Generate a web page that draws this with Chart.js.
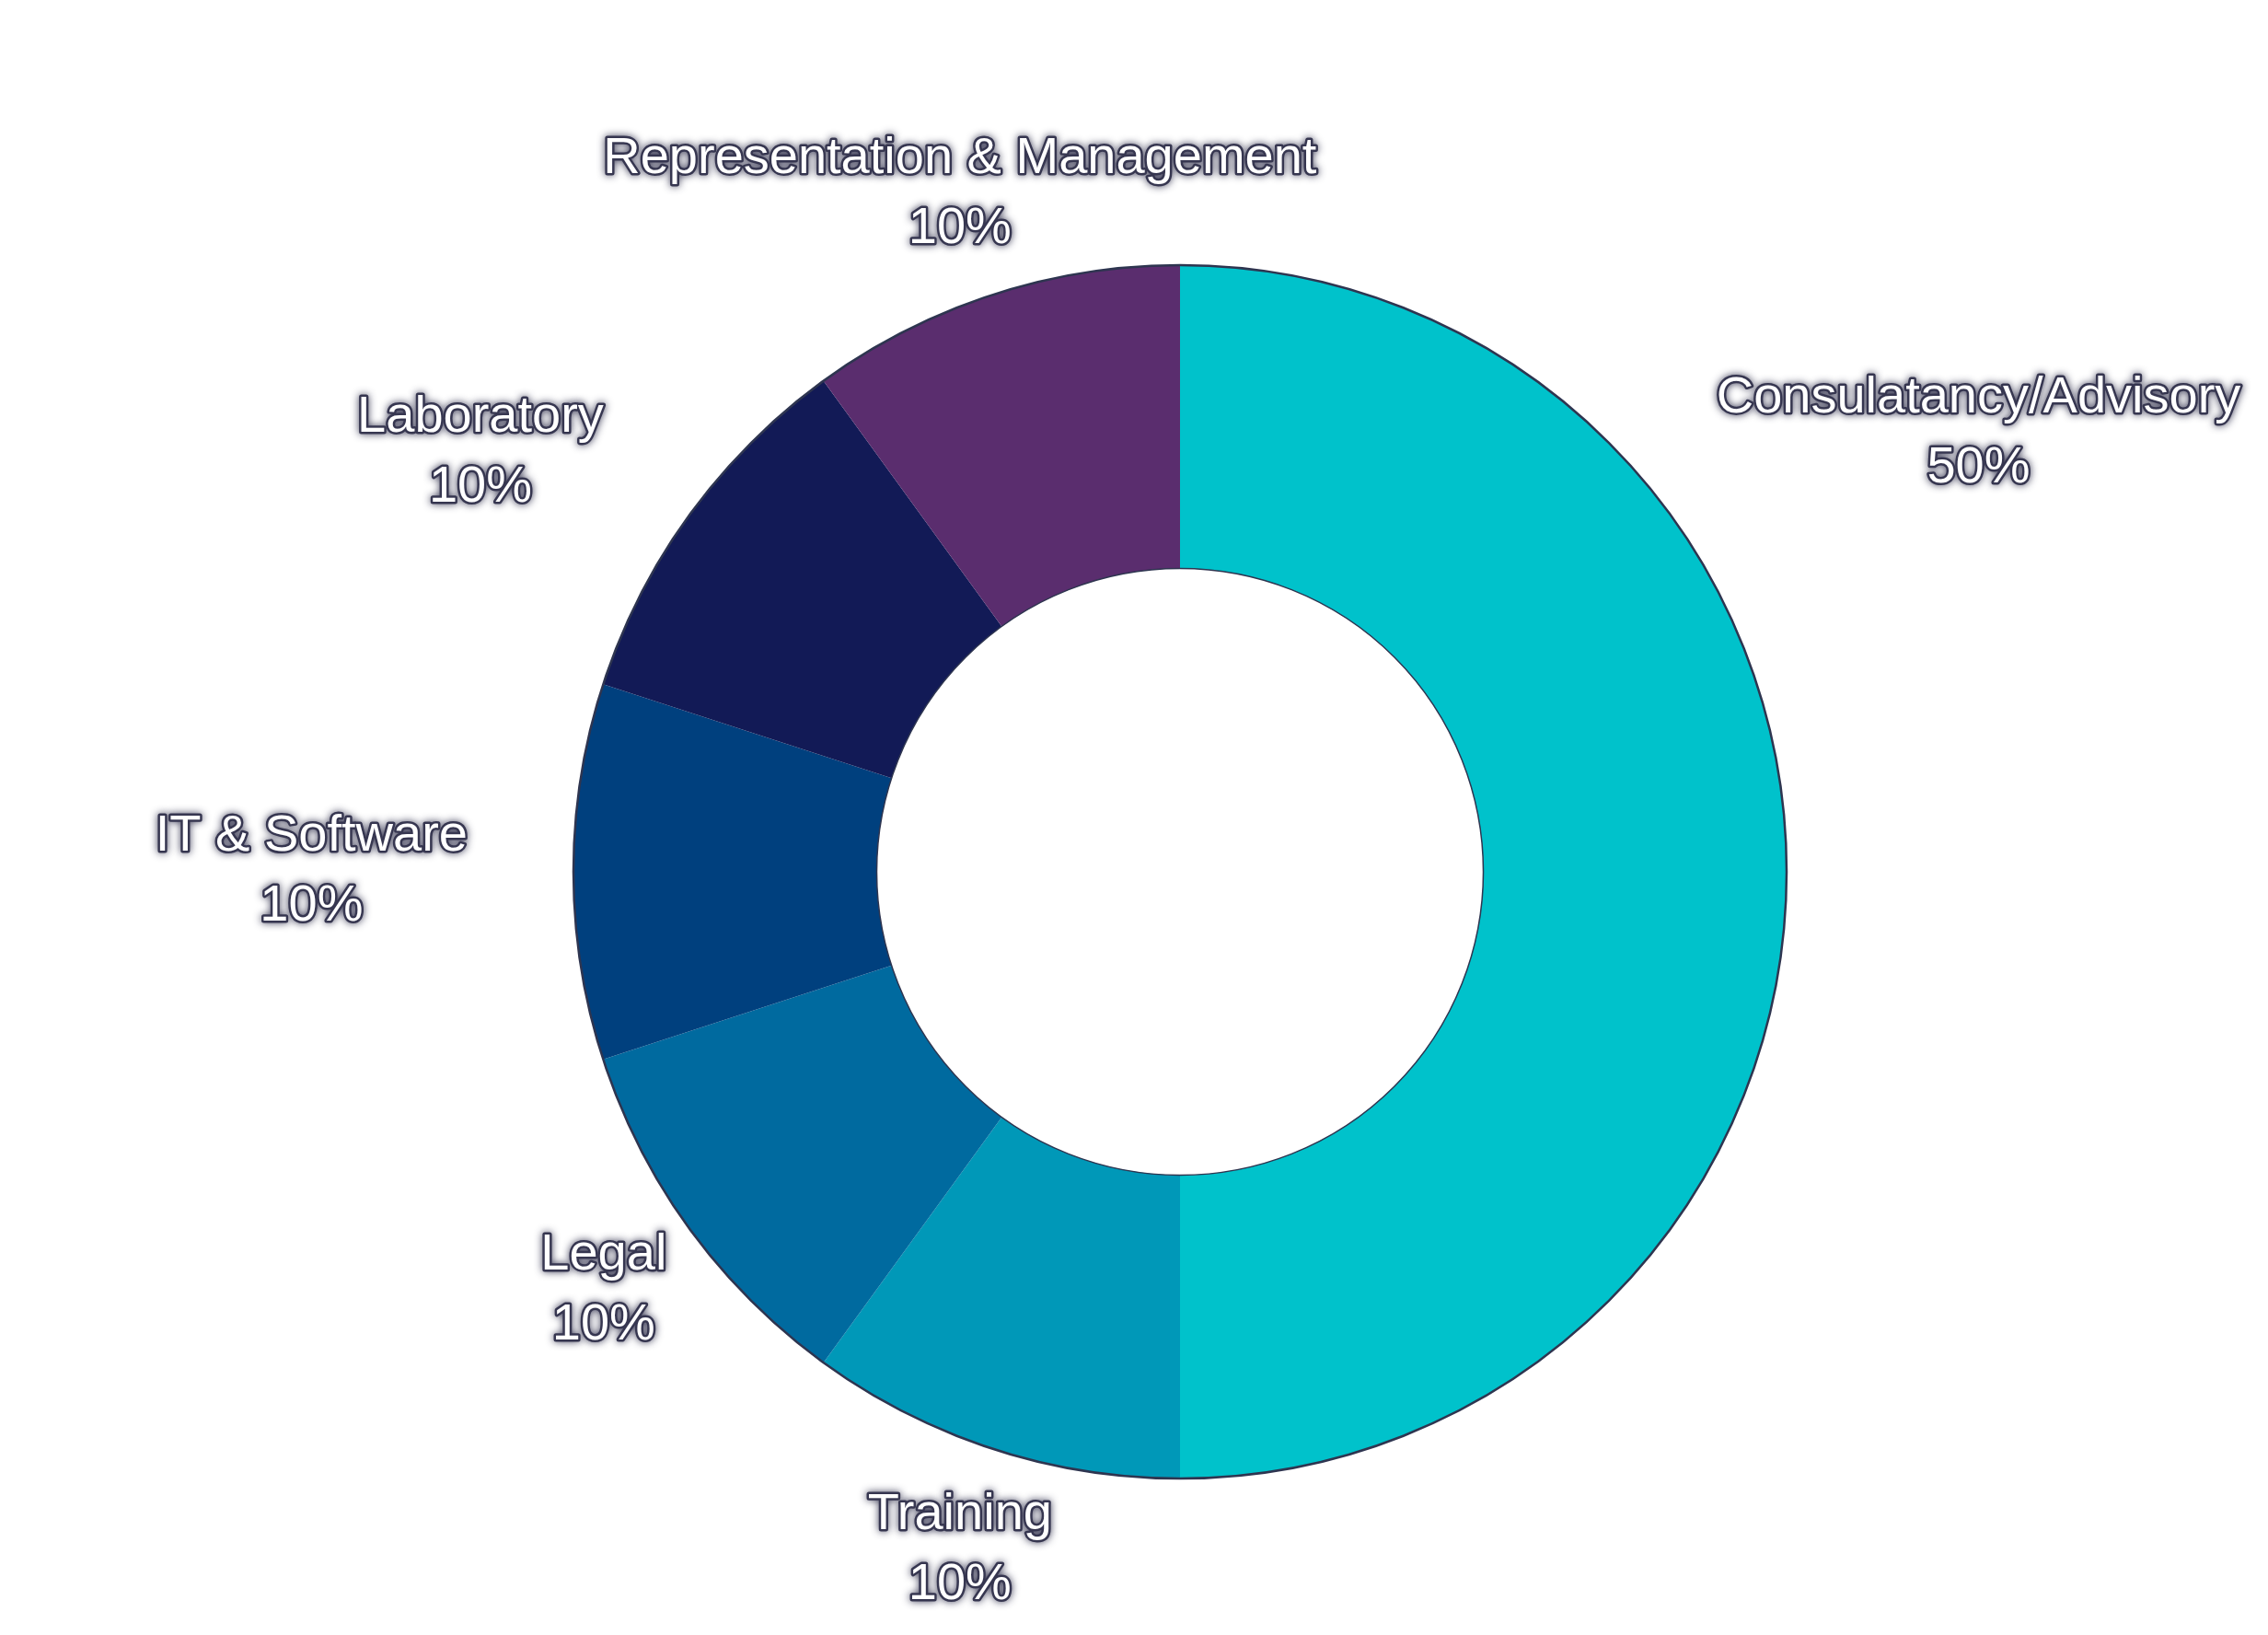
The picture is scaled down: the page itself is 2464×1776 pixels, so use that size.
<!DOCTYPE html>
<html>
<head>
<meta charset="utf-8">
<script src="https://cdn.jsdelivr.net/npm/chart.js@4"></script>
<style>
  html, body { margin: 0; padding: 0; background: #ffffff; }
  #wrap { width: 2464px; height: 1776px; position: relative; }
</style>
</head>
<body>
<div id="wrap"><canvas id="serviciosChart"></canvas></div>
<script>
const categorias = ["Consulatancy/Advisory", "Training", "Legal", "IT & Software", "Laboratory", "Representation & Management"];
const valores = [50, 10, 10, 10, 10, 10];
const colores = ["#00c2cb", "#0098b8", "#006a9f", "#00407e", "#121a56", "#5a2d6e"];

// label layout: alignment, angle override (deg from top, clockwise) and gap beyond the ring
const alineacion = ["left", "center", "center", "right", "right", "center"];
const anguloEtiqueta = [50.7, null, null, null, null, null];
const separacion = [94, 115, 115, 115, 115, 115];

function porcentaje(valor, total) {
    return `${Math.round((valor / total) * 100)}%`;
}

const etiquetasExternas = {
    id: "etiquetasExternas",
    afterDatasetsDraw(chart) {
        const dataset = chart.data.datasets[0];
        const meta = chart.getDatasetMeta(0);
        if (!meta || !meta.data.length) return;
        const total = dataset.data.reduce((acc, v) => acc + Number(v || 0), 0);
        const { ctx } = chart;
        const arc0 = meta.data[0];

        // thin dark edge round the ring
        ctx.save();
        ctx.strokeStyle = "#2e3550";
        ctx.lineWidth = 2.5;
        ctx.beginPath();
        ctx.arc(arc0.x, arc0.y, arc0.outerRadius, 0, Math.PI * 2);
        ctx.stroke();
        ctx.lineWidth = 1.5;
        ctx.beginPath();
        ctx.arc(arc0.x, arc0.y, arc0.innerRadius, 0, Math.PI * 2);
        ctx.stroke();
        ctx.restore();

        ctx.save();
        ctx.font = "56px 'Liberation Sans', Arial, sans-serif";
        ctx.textBaseline = "middle";
        ctx.lineJoin = "round";
        meta.data.forEach((arc, i) => {
            let ang = (arc.startAngle + arc.endAngle) / 2;
            if (anguloEtiqueta[i] !== null) ang = (anguloEtiqueta[i] - 90) * Math.PI / 180;
            const dist = arc.outerRadius + separacion[i];
            const x = arc.x + Math.cos(ang) * dist;
            const y = arc.y + Math.sin(ang) * dist;
            const lineas = [chart.data.labels[i], porcentaje(dataset.data[i], total)];
            const anchos = lineas.map((t) => ctx.measureText(t).width);
            const bloque = Math.max(...anchos);
            ctx.textAlign = "center";
            let cx = x;
            if (alineacion[i] === "left") cx = x + bloque / 2;
            if (alineacion[i] === "right") cx = x - bloque / 2;
            lineas.forEach((t, k) => {
                const ty = y + (k - 0.5) * 76;
                ctx.shadowColor = "rgba(35, 35, 65, 0.85)";
                ctx.shadowBlur = 8;
                ctx.strokeStyle = "#363650";
                ctx.lineWidth = 5;
                ctx.strokeText(t, cx, ty);
                ctx.shadowBlur = 0;
                ctx.shadowColor = "transparent";
                ctx.fillStyle = "#ffffff";
                ctx.fillText(t, cx, ty);
            });
        });
        ctx.restore();
    }
};

const chart = new Chart(document.getElementById("serviciosChart"), {
    type: "doughnut",
    plugins: [etiquetasExternas],
    data: {
        labels: categorias,
        datasets: [{ data: valores, backgroundColor: colores, borderWidth: 0 }]
    },
    options: {
        responsive: true,
        maintainAspectRatio: false,
        animation: false,
        cutout: "50%",
        layout: { padding: { top: 288, bottom: 170, left: 300, right: 200 } },
        plugins: { legend: { display: false }, tooltip: { enabled: false } }
    }
});
</script>
</body>
</html>
